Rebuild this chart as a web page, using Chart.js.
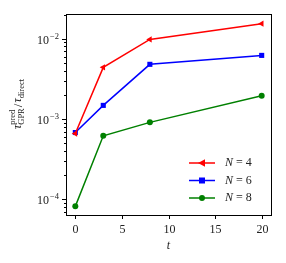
<!DOCTYPE html>
<html lang="en">
<head>
    <meta charset="UTF-8">
    <title>GPR timing ratio</title>
    <script src="https://cdn.jsdelivr.net/npm/chart.js"></script>
    <style>
        html, body { margin: 0; padding: 0; background: #fff; }
        canvas { display: block; }
    </style>
</head>
<body>
    <canvas id="ratioChart" width="286" height="263"></canvas>

    <script>
        // values
        const tValues = [0, 3, 8, 20];
        const ratioN4 = [6.6e-4, 4.4e-3, 9.8e-3, 1.54e-2];
        const ratioN6 = [6.8e-4, 1.48e-3, 4.8e-3, 6.2e-3];
        const ratioN8 = [8.2e-5, 6.2e-4, 9.1e-4, 1.95e-3];
        const seriesLabels = ['4', '6', '8'];
        const xTicks = [0, 5, 10, 15, 20];
        const yMajorTicks = [1e-4, 1e-3, 1e-2];

        const SERIF = '"Liberation Serif", "DejaVu Serif", serif';
        const colors = ['#ff0000', '#0000ff', '#008000'];
        const markers = ['triangle', 'rect', 'circle'];

        const toPoints = (vals) => vals.map((v, i) => ({ x: tValues[i], y: v }));

        function drawMarker(ctx, style, x, y, color) {
            ctx.fillStyle = color;
            ctx.beginPath();
            if (style === 'triangle') {
                // left pointing triangle
                ctx.moveTo(x - 4, y);
                ctx.lineTo(x + 3, y - 3.8);
                ctx.lineTo(x + 3, y + 3.8);
                ctx.closePath();
            } else if (style === 'rect') {
                ctx.rect(x - 3, y - 3, 6, 6);
            } else {
                ctx.arc(x, y, 3, 0, Math.PI * 2);
            }
            ctx.fill();
        }

        const mplAxes = {
            id: 'mplAxes',
            afterDraw(chart) {
                const { ctx, chartArea: a, scales } = chart;
                const xs = scales.x, ys = scales.y;
                ctx.save();

                // frame
                ctx.strokeStyle = '#000';
                ctx.lineWidth = 1;
                ctx.strokeRect(Math.round(a.left) + 0.5, Math.round(a.top) + 0.5,
                    Math.round(a.right - a.left), Math.round(a.bottom - a.top));

                // x ticks + labels
                ctx.fillStyle = '#222';
                ctx.font = '12px ' + SERIF;
                ctx.textAlign = 'center';
                ctx.textBaseline = 'middle';
                xTicks.forEach(v => {
                    const px = Math.round(xs.getPixelForValue(v)) + 0.5;
                    ctx.beginPath();
                    ctx.moveTo(px, a.bottom);
                    ctx.lineTo(px, a.bottom + 4);
                    ctx.stroke();
                    ctx.fillText(String(v), px, 230);
                });
                ctx.font = 'italic 12px ' + SERIF;
                ctx.fillText('t', (a.left + a.right) / 2, 246);

                // y major ticks + labels
                yMajorTicks.forEach(v => {
                    const py = Math.round(ys.getPixelForValue(v)) + 0.5;
                    ctx.beginPath();
                    ctx.moveTo(a.left - 4, py);
                    ctx.lineTo(a.left, py);
                    ctx.stroke();
                    const exp = '\u2212' + Math.round(-Math.log10(v));
                    ctx.font = '8.5px ' + SERIF;
                    const we = ctx.measureText(exp).width;
                    ctx.font = '12px ' + SERIF;
                    const wb = ctx.measureText('10').width;
                    const right = 59;
                    ctx.textAlign = 'left';
                    ctx.fillText('10', right - we - wb - 1, py + 1);
                    ctx.font = '8.5px ' + SERIF;
                    ctx.fillText(exp, right - we, py - 3);
                });

                // y minor ticks
                for (let d = -5; d <= -1; d++) {
                    for (let m = 2; m <= 9; m++) {
                        const v = m * Math.pow(10, d);
                        if (v < ys.min || v > ys.max) continue;
                        const py = Math.round(ys.getPixelForValue(v)) + 0.5;
                        ctx.beginPath();
                        ctx.moveTo(a.left - 2, py);
                        ctx.lineTo(a.left, py);
                        ctx.stroke();
                    }
                }

                // y axis title: tau^pred_GPR / tau_direct
                ctx.translate(17, 104);
                ctx.rotate(-Math.PI / 2);
                ctx.textBaseline = 'alphabetic';
                ctx.textAlign = 'left';
                const big = 'italic 12px ' + SERIF, small = '8.5px ' + SERIF;
                ctx.font = big; const wTau = ctx.measureText('\u03c4').width;
                ctx.font = small;
                const wPred = ctx.measureText('pred').width, wGpr = ctx.measureText('GPR').width;
                const wDir = ctx.measureText('direct').width;
                ctx.font = '13px ' + SERIF; const wSl = ctx.measureText('/').width;
                const total = wTau + Math.max(wPred, wGpr) + wSl + wTau + wDir + 2;
                let cx = -total / 2;
                const base = 4;
                ctx.font = big; ctx.fillText('\u03c4', cx, base); cx += wTau;
                ctx.font = small;
                ctx.fillText('pred', cx, base - 6);
                ctx.fillText('GPR', cx, base + 3);
                cx += Math.max(wPred, wGpr) + 1;
                ctx.font = '13px ' + SERIF; ctx.fillText('/', cx, base + 1); cx += wSl + 1;
                ctx.font = big; ctx.fillText('\u03c4', cx, base); cx += wTau;
                ctx.font = small; ctx.fillText('direct', cx, base + 3);
                ctx.setTransform(1, 0, 0, 1, 0, 0);

                // legend
                const rows = [163, 180.5, 198];
                rows.forEach((ry, i) => {
                    ctx.strokeStyle = colors[i];
                    ctx.lineWidth = 1.5;
                    ctx.beginPath();
                    ctx.moveTo(189, ry);
                    ctx.lineTo(215, ry);
                    ctx.stroke();
                    drawMarker(ctx, markers[i], 202, ry, colors[i]);
                    ctx.fillStyle = '#222';
                    ctx.textBaseline = 'middle';
                    ctx.font = 'italic 12px ' + SERIF;
                    ctx.fillText('N', 225, ry);
                    const wN = ctx.measureText('N').width;
                    ctx.font = '12px ' + SERIF;
                    ctx.fillText('= ' + seriesLabels[i], 225 + wN + 3, ry);
                });

                ctx.restore();
            }
        };

        const series = [ratioN4, ratioN6, ratioN8];
        const datasets = series.map((vals, i) => ({
            label: 'N = ' + seriesLabels[i],
            data: toPoints(vals),
            borderColor: colors[i],
            backgroundColor: colors[i],
            borderWidth: 1.5,
            pointStyle: markers[i],
            pointRotation: markers[i] === 'triangle' ? -90 : 0,
            pointRadius: markers[i] === 'circle' ? 3 : 3.6,
            pointBorderWidth: 0,
            tension: 0
        }));

        new Chart(document.getElementById('ratioChart').getContext('2d'), {
            type: 'line',
            data: { datasets: datasets },
            options: {
                responsive: false,
                animation: false,
                layout: { padding: { left: 66, top: 14, right: 15, bottom: 48 } },
                plugins: { legend: { display: false }, tooltip: { enabled: false } },
                scales: {
                    x: { type: 'linear', min: -1, max: 21, display: false },
                    y: { type: 'logarithmic', min: 6.4e-5, max: 2.03e-2, display: false }
                }
            },
            plugins: [mplAxes]
        });
    </script>
</body>
</html>
